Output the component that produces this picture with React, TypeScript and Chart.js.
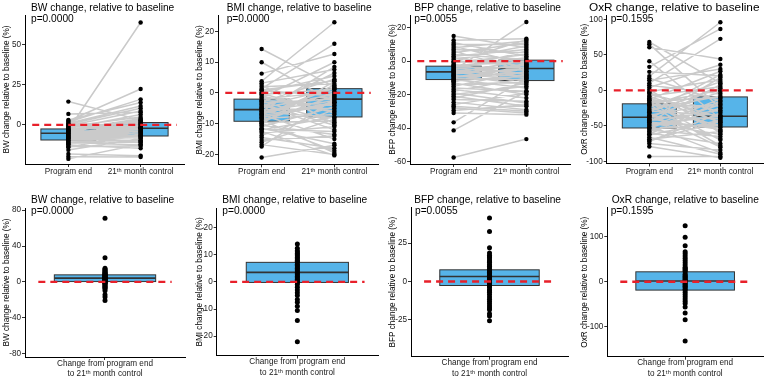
import React, { useEffect, useRef } from 'react';
import { Chart, registerables } from 'chart.js';

Chart.register(...registerables);

const FONT = '"Liberation Sans", Arial, Helvetica, sans-serif';
const RED = '#e8202a';
const BOX_FILL = '#56B4E9';
const BOX_EDGE = '#333333';
const PAIR_LINE = '#cacaca';
const BOX_HALF = 0.38;

// Category labels
const topCategories = ['Program end', '21\u1d57\u02b0 month control'];
const changeCategory = ['Change from program end', 'to 21\u1d57\u02b0 month control'];

// Panel titles, p-values and axis titles
const measures = ['BW', 'BMI', 'BFP', 'OxR'];
const pValues = ['p=0.0000', 'p=0.0000', 'p=0.0055', 'p=0.1595'];

// ---- BW: change relative to baseline (%) per participant ----
const bwProgramEnd = [-3, 14.6, 6.9, 3.1, 2.5, 1.8, 1.0, 0.5, -0.5, -1, -1.5, -2, -2.5, -2.8, -3.2, -3.5, -4, -4.3, -4.7, -5, -5.2, -5.5, -6, -6.3, -6.8, -7.2, -7.5, -8, -8.3, -8.8, -9.2, -9.6, -10, -10.5, -11, -11.5, -12, -12.5, -13.5, -15.6, -18.1, -19.8, -21.2, -14, -0.2, -6.6, -3.8, -7.8];
const bw21Month = [64, 3, 8, 14, 22.5, 16, 11.9, 10.4, 8.7, 5, 2, 6.5, 1.5, -1, 4, 0.5, -3, 2.5, -1.5, -4, 0, -2, -5, -6.5, -0.5, -2.5, -7, -3.5, -8, -6, -9.5, -4.5, -11, -7.5, -12.5, -10, -2, -14.6, -13.2, -8.5, -19.2, -20, -12, -5.5, 1, -1.8, 3.2, -10.5];
const bwChange = [71, 27, 15.3, 14, 13, 12, 11, 10.5, 10, 9, 8.5, 8, 7.8, 7, 6.5, 6, 5.5, 5, 4.5, 4.1, 4, 3.5, 3, 2.5, 2, 1.5, 1, 0.5, 0.3, 0, -0.5, -1, -1.5, -2, -3, -4, -5, -6, -7, -8, -10, -14.5, -17, -21];
// box statistics: [Q1, median, Q3]
const bwBoxProgramEnd = [-9.4, -5.2, -2.5];
const bwBox21Month = [-6.9, -2.1, 1.5];
const bwBoxChange = [0.3, 4.1, 7.8];

// ---- BMI ----
const bmiProgramEnd = [14.3, 10, 6.3, 3.8, 3.2, 2.6, 2.0, 1.4, 0.8, 0.2, -0.5, -1.0, -1.5, -2.0, -2.4, -2.9, -3.3, -3.8, -4.2, -4.6, -5.0, -5.4, -5.8, -6.2, -6.6, -7.0, -7.4, -7.8, -8.3, -8.7, -9.2, -9.6, -10.0, -10.5, -11.0, -11.5, -12.0, -12.5, -13.0, -13.8, -14.5, -15.3, -16.0, -16.8, -17.4, -21, -3.6, -6.0, -0.2, -8.0, -11.8, -4.8, 1.0, -9.9, -2.7, -7.1];
const bmi21Month = [2, -3, 12.7, 23, 7.6, -10, 3, 16, -1, 5.5, 1.2, -6, 10, 0.5, -4, 4.5, -2, -12, 1.4, -1.5, 6.5, -5, -2.5, -8, 0, -15, -3, 2.5, -7, -19.5, -1, -9, 3.8, -13.5, -4.5, -16.5, -7.8, -20.3, -11, -5.5, -18, -14, -8.5, -20, -2, -17, -10.5, 8.5, -6.5, -3.5, -12.5, -0.5, 4, -18.8, -9.5, 1.8];
const bmiChange = [14, 12.4, 11.5, 11, 10.5, 10, 9.5, 9, 8.5, 8, 7.5, 7.2, 6.5, 6, 5.5, 5, 4.5, 4, 3.5, 3, 2.5, 2, 1.5, 1, 0.5, 0, -0.2, -1, -2, -3, -4, -5, -6.5, -7.5, -9, -10.5, -14.2, -22];
const bmiBoxProgramEnd = [-9.2, -5.4, -2.0];
const bmiBox21Month = [-7.8, -2.0, 1.4];
const bmiBoxChange = [-0.2, 3.5, 7.2];

// ---- BFP ----
const bfpProgramEnd = [15, 12.5, 11, 10, 9, 8, 7, 6, 5, 4, 3, 2, 1, 0, -1, -2, -3, -3.5, -4.5, -5, -5.5, -6, -6.5, -7, -7.5, -8.5, -9, -10, -10.5, -11, -11.5, -12, -13, -14, -15, -16, -17, -18, -19, -20, -21, -22, -23, -24.5, -26, -27, -28, -29.5, -31, -36.6, -41.4, -57.6, -2.5, -8, -4, -12.5, -0.5, -9.5];
const bfp21Month = [8, 13.4, 3, 10, -2, 12, 5, -6, 11, 1, 7, -3, 9, -1, 4, -8, 2, -4, 6, -10, 23.4, -2.5, -12, 0.6, -5, -14, -7, -3.5, -11, -16, -9, -4.4, -20, -12.5, -6, -18, -22, -10, -25, -15, -27, -13, -24, -29, -19, -30, -31, -26, -32, -10, -18, -46.6, -0.5, -1.5, -7.5, -2, 12.8, -8.5];
const bfpChange = [41.3, 32.6, 22, 18.5, 17, 16, 15.5, 14, 13, 12.5, 11, 10, 9.5, 8, 7.6, 6.5, 6, 5, 4, 3.3, 2.5, 2, 1.5, 0.5, -0.5, -1.5, -2.6, -3, -4, -5.5, -6, -7, -8.5, -10, -11.5, -13, -14.5, -16, -17.3, -18.4, -21, -22.5, -25.6];
const bfpBoxProgramEnd = [-11, -6.4, -3];
const bfpBox21Month = [-11.6, -4.4, 0.6];
const bfpBoxChange = [-2.6, 3.3, 7.6];

// ---- OxR ----
const oxrProgramEnd = [68, 65, 60.6, 41, 33, 26, 20, 17, 14, 10, 7, 4, 1, -2, -5, -8, -11, -13, -15, -17, -19, -21, -23, -25, -27, -29, -31, -33, -35, -37, -38, -40, -42, -44, -46, -48, -50, -52, -54, -56, -58, -60, -63, -66, -69, -72, -75, -79, -93, -9, -30, -45, -3, -36, -53, -20, -62, -41, -14, -70];
const oxr21Month = [10, -25, 44, -40, 86.4, 20, 95.8, -15, 30, 72.4, -5, 36, -60, 15, -30, 5, -45, 26.8, -10, -70, 0, -22, 12, -50, -8, -35, 22, -80, -18, -40, -2, -55, -28, 8, -62, -36.6, -88, -12, -48, -65, -25, -75, -42, -90, -58, -32, -84, -95, -93, -38, 3, -52, -46, -68, -20, -78, -15, 18, -57, -44];
const oxrChange = [124, 98.7, 80, 66.7, 62, 57, 52, 47, 42, 37, 32, 30, 27, 25, 22, 17, 15, 12, 10, 7, 5, 3, 1.5, 0, -3, -5, -7, -10, -12, -16, -18.5, -23, -28, -33, -38, -43, -48, -56, -69, -84, -131];
const oxrBoxProgramEnd = [-53, -38, -19];
const oxrBox21Month = [-51.6, -36.6, -9.3];
const oxrBoxChange = [-18.5, 1.5, 22];

// Tick values of each y axis
const topYTicks = [[0, 25, 50], [-20, -10, 0, 10, 20], [-60, -40, -20, 0, 20], [-100, -50, 0, 50, 100]];
const bottomYTicks = [[-80, -40, 0, 40, 80], [-20, -10, 0, 10, 20], [-25, 0, 25], [-100, 0, 100]];
const topYRange = [[-24.4, 68.7], [-23.2, 25.2], [-61.5, 27.6], [-103, 106]];
const bottomYRange = [[-84, 82.5], [-27.1, 27.1], [-48.9, 48], [-166, 164]];

type Panel = {
  x: number; y: number; w: number; h: number;
  plot: { left: number; top: number; right: number; bottom: number };
  yMin: number; yMax: number; yTicks: number[];
  title: string; titleX: number; titleY: number; titleSize: number;
  pText: string; pX: number; pY: number;
  yTitle: string;
  paired: boolean;
  series: number[][];
  boxes: number[][];
};

const colX = [0, 193, 386, 578];
const colW = [193, 193, 192, 189];
const topPlots = [
  { left: 25, top: 15, right: 184, bottom: 164 },
  { left: 25, top: 15.5, right: 185, bottom: 164.3 },
  { left: 24, top: 15, right: 184, bottom: 164 },
  { left: 28.7, top: 15, right: 186, bottom: 163.5 },
];
const bottomPlots = [
  { left: 25, top: 23, right: 185, bottom: 172 },
  { left: 23.7, top: 23.3, right: 185, bottom: 170.5 },
  { left: 25, top: 22.7, right: 182, bottom: 171.7 },
  { left: 29.3, top: 22.7, right: 187.7, bottom: 171.7 },
];
const topTitleX = [31, 226.7, 414.3, 589];
const topPX = [31, 226.7, 414.3, 610.7];
const bottomTitleX = [31, 222.3, 414.3, 611.7];
const bottomPX = [31, 222.3, 415, 610.7];

const pairedSeries = [[bwProgramEnd, bw21Month], [bmiProgramEnd, bmi21Month], [bfpProgramEnd, bfp21Month], [oxrProgramEnd, oxr21Month]];
const pairedBoxes = [[bwBoxProgramEnd, bwBox21Month], [bmiBoxProgramEnd, bmiBox21Month], [bfpBoxProgramEnd, bfpBox21Month], [oxrBoxProgramEnd, oxrBox21Month]];
const changeSeries = [bwChange, bmiChange, bfpChange, oxrChange];
const changeBoxes = [bwBoxChange, bmiBoxChange, bfpBoxChange, oxrBoxChange];

const panels: Panel[] = [];
measures.forEach((m, i) => {
  panels.push({
    x: colX[i], y: 0, w: colW[i], h: 185, plot: topPlots[i],
    yMin: topYRange[i][0], yMax: topYRange[i][1], yTicks: topYTicks[i],
    title: `${m} change, relative to baseline`, titleX: topTitleX[i], titleY: 11, titleSize: i === 3 ? 11.8 : 10.2,
    pText: pValues[i], pX: topPX[i], pY: 22.4,
    yTitle: `${m} change relative to baseline (%)`,
    paired: true, series: pairedSeries[i], boxes: pairedBoxes[i],
  });
});
measures.forEach((m, i) => {
  panels.push({
    x: colX[i], y: 185, w: colW[i], h: 193, plot: bottomPlots[i],
    yMin: bottomYRange[i][0], yMax: bottomYRange[i][1], yTicks: bottomYTicks[i],
    title: `${m} change, relative to baseline`, titleX: bottomTitleX[i], titleY: 202.6, titleSize: 10.2,
    pText: pValues[i], pX: bottomPX[i], pY: 214.3,
    yTitle: `${m} change relative to baseline (%)`,
    paired: false, series: [changeSeries[i]], boxes: [changeBoxes[i]],
  });
});

function buildConfig(p: Panel): any {
  const positions = p.paired ? [1, 2] : [1];
  const points: { x: number; y: number }[] = [];
  p.series.forEach((s, k) => s.forEach((v) => points.push({ x: positions[k], y: v })));

  const pairs: { x: number; y: number | null }[] = [];
  if (p.paired) {
    const [a, b] = p.series;
    a.forEach((v, i) => {
      pairs.push({ x: 1, y: v }, { x: 2, y: b[i] }, { x: 1.5, y: null });
    });
  }

  const datasets: any[] = [
    {
      data: [{ x: 0.5, y: 0 }, { x: p.paired ? 2.5 : 1.5, y: 0 }],
      showLine: true, borderColor: RED, borderWidth: 2.3, borderDash: [7, 5],
      pointRadius: 0, order: 0,
    },
    {
      data: points, showLine: false, pointRadius: p.paired ? 2.2 : 2.5,
      pointBackgroundColor: '#000', pointBorderWidth: 0, order: 1,
    },
  ];
  if (p.paired) {
    datasets.push({
      data: pairs, showLine: true, spanGaps: false, borderColor: PAIR_LINE,
      borderWidth: 1.5, pointRadius: 0, order: 2,
    });
  }

  const boxPlugin = {
    id: 'boxAndTitles',
    beforeDatasetsDraw(chart: any) {
      const { ctx, scales } = chart;
      const xs = scales.x, ys = scales.y;
      ctx.save();
      p.boxes.forEach((b, k) => {
        const pos = positions[k];
        const x0 = xs.getPixelForValue(pos - BOX_HALF);
        const x1 = xs.getPixelForValue(pos + BOX_HALF);
        const yq1 = ys.getPixelForValue(b[0]);
        const ym = ys.getPixelForValue(b[1]);
        const yq3 = ys.getPixelForValue(b[2]);
        ctx.fillStyle = BOX_FILL;
        ctx.fillRect(x0, yq3, x1 - x0, yq1 - yq3);
        ctx.strokeStyle = BOX_EDGE;
        ctx.lineWidth = 1;
        ctx.strokeRect(x0, yq3, x1 - x0, yq1 - yq3);
        ctx.lineWidth = 1.6;
        ctx.beginPath();
        ctx.moveTo(x0, ym);
        ctx.lineTo(x1, ym);
        ctx.stroke();
      });
      ctx.restore();
    },
    afterDraw(chart: any) {
      const { ctx } = chart;
      ctx.save();
      ctx.fillStyle = '#000';
      ctx.textAlign = 'left';
      ctx.textBaseline = 'alphabetic';
      ctx.font = `${p.titleSize}px ${FONT}`;
      ctx.fillText(p.title, p.titleX - p.x, p.titleY - p.y);
      ctx.font = `10.2px ${FONT}`;
      ctx.fillText(p.pText, p.pX - p.x, p.pY - p.y);
      ctx.restore();
    },
  };

  return {
    type: 'scatter',
    data: { datasets },
    plugins: [boxPlugin],
    options: {
      responsive: false,
      maintainAspectRatio: false,
      animation: false,
      events: [],
      layout: { padding: { top: p.plot.top, right: p.w - p.plot.right, left: 0, bottom: 0 } },
      plugins: { legend: { display: false }, tooltip: { enabled: false }, title: { display: false } },
      scales: {
        x: {
          type: 'linear',
          min: 0.4,
          max: p.paired ? 2.6 : 1.6,
          afterBuildTicks: (s: any) => { s.ticks = positions.map((v) => ({ value: v })); },
          afterFit: (s: any) => { s.height = p.h - p.plot.bottom; },
          ticks: {
            autoSkip: false, maxRotation: 0, minRotation: 0,
            padding: p.paired ? 0 : -2,
            color: '#1a1a1a',
            font: { family: FONT, size: 8.2, lineHeight: p.paired ? 1.2 : 1.28 },
            callback: (v: number) => (p.paired ? topCategories[v - 1] : changeCategory),
          },
          grid: { drawOnChartArea: false, drawTicks: true, tickLength: 3, color: '#333', lineWidth: 1 },
          border: { display: true, color: '#000', width: 1 },
        },
        y: {
          type: 'linear',
          min: p.yMin,
          max: p.yMax,
          afterBuildTicks: (s: any) => { s.ticks = p.yTicks.map((v) => ({ value: v })); },
          afterFit: (s: any) => { s.width = p.plot.left; },
          ticks: {
            padding: 1, color: '#1a1a1a',
            font: { family: FONT, size: 8.2 },
            callback: (v: number) => String(v),
          },
          title: {
            display: true, text: p.yTitle, color: '#000',
            font: { family: FONT, size: 8.2 }, padding: { top: 1.5, bottom: 0 },
          },
          grid: { drawOnChartArea: false, drawTicks: true, tickLength: 3, color: '#333', lineWidth: 1 },
          border: { display: true, color: '#000', width: 1 },
        },
      },
    },
  };
}

function PanelChart({ panel }: { panel: Panel }) {
  const ref = useRef<HTMLCanvasElement>(null);
  useEffect(() => {
    const chart = new Chart(ref.current as HTMLCanvasElement, buildConfig(panel));
    return () => chart.destroy();
  }, [panel]);
  return (
    <canvas
      ref={ref}
      width={panel.w}
      height={panel.h}
      style={{ position: 'absolute', left: panel.x, top: panel.y, width: panel.w, height: panel.h }}
    />
  );
}

export default function App() {
  return (
    <div style={{ position: 'absolute', left: 0, top: 0, width: 767, height: 378, background: '#fff', overflow: 'hidden' }}>
      {panels.map((p, i) => (
        <PanelChart key={i} panel={p} />
      ))}
    </div>
  );
}
